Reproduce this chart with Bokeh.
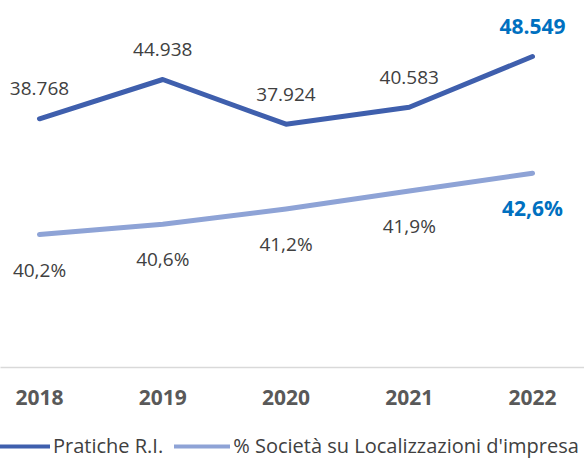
from bokeh.plotting import figure
from bokeh.layouts import column
from bokeh.models import Range1d, FixedTicker, Legend, LegendItem, ColumnDataSource
from bokeh.core.properties import value
from bokeh.embed import file_html
from bokeh.resources import INLINE

# ---- data ----
years = ["2018", "2019", "2020", "2021", "2022"]
pratiche = [38768, 44938, 37924, 40583, 48549]
quota = [40.2, 40.6, 41.2, 41.9, 42.6]
series_names = ["Pratiche R.I.", "% Società su Localizzazioni d'impresa"]

DARK = "#3F5FAD"
LIGHT = "#8EA3D6"
HILITE = "#0070C0"
TXT = "#404040"
FONT = "Open Sans"

xs = list(range(len(years)))
lab_pr = [f"{v:,}".replace(",", ".") for v in pratiche]
lab_q = [f"{v:.1f}%".replace(".", ",") for v in quota]

src = ColumnDataSource(dict(x=xs, pr=pratiche, q=quota))
n = len(years)
src_a = ColumnDataSource(dict(x=xs[:n-1], pr=pratiche[:n-1], q=quota[:n-1], lpr=lab_pr[:n-1], lq=lab_q[:n-1]))
src_b = ColumnDataSource(dict(x=xs[n-1:], pr=pratiche[n-1:], q=quota[n-1:], lpr=lab_pr[n-1:], lq=lab_q[n-1:]))

p = figure(width=584, height=430, output_backend="svg", toolbar_location=None,
           x_range=Range1d(-0.3164, 4.4219), y_range=Range1d(-281, 57342),
           y_axis_location=None, min_border_left=0, min_border_right=0,
           min_border_top=0, min_border_bottom=63)
p.extra_y_ranges = {"pct": Range1d(34.993, 49.362)}
p.outline_line_color = None
p.xgrid.grid_line_color = None
p.ygrid.grid_line_color = None
p.background_fill_color = "white"
p.border_fill_color = "white"

r1 = p.line("x", "pr", source=src, line_color=DARK, line_width=5,
            line_cap="round", line_join="round")
r2 = p.line("x", "q", source=src, y_range_name="pct", line_color=LIGHT, line_width=5,
            line_cap="round", line_join="round")

# data labels
p.text("x", "pr", text="lpr", source=src_a, y_offset=-30, text_align="center",
       text_baseline="middle", text_font=value(FONT), text_font_size="19px", text_color=TXT)
p.text("x", "pr", text="lpr", source=src_b, y_offset=-30, text_align="center",
       text_baseline="middle", text_font=value(FONT), text_font_size="21px",
       text_font_style="bold", text_color=HILITE)
p.text("x", "q", text="lq", source=src_a, y_range_name="pct", y_offset=35, text_align="center",
       text_baseline="middle", text_font=value(FONT), text_font_size="19px", text_color=TXT)
p.text("x", "q", text="lq", source=src_b, y_range_name="pct", y_offset=35, text_align="center",
       text_baseline="middle", text_font=value(FONT), text_font_size="21px",
       text_font_style="bold", text_color=HILITE)

ax = p.xaxis[0]
ax.ticker = FixedTicker(ticks=xs)
ax.major_label_overrides = {i: y for i, y in zip(xs, years)}
ax.axis_line_color = "#D9D9D9"
ax.axis_line_width = 1.5
ax.major_tick_line_color = None
ax.minor_tick_line_color = None
ax.major_tick_out = 0
ax.major_tick_in = 0
ax.major_label_standoff = 22
ax.major_label_text_font = FONT
ax.major_label_text_font_size = "21px"
ax.major_label_text_font_style = "bold"
ax.major_label_text_color = "#595959"

# legend strip (separate figure below the chart); its renderers are hidden
lf = figure(width=584, height=29, output_backend="svg", toolbar_location=None,
            x_range=Range1d(0, 1), y_range=Range1d(0, 1),
            x_axis_location=None, y_axis_location=None,
            min_border_left=0, min_border_right=0, min_border_top=0, min_border_bottom=0)
lf.outline_line_color = None
lf.xgrid.grid_line_color = None
lf.ygrid.grid_line_color = None
lr1 = lf.line("x", "pr", source=src, line_color=DARK, line_width=4, line_cap="round", visible=False)
lr2 = lf.line("x", "q", source=src, line_color=LIGHT, line_width=4, line_cap="round", visible=False)

legend = Legend(items=[LegendItem(label=series_names[0], renderers=[lr1]),
                       LegendItem(label=series_names[1], renderers=[lr2])],
                orientation="horizontal", location=(-6, 0),
                glyph_width=56, glyph_height=20, label_height=20, label_standoff=3,
                spacing=11, padding=0, margin=0, border_line_color=None,
                background_fill_alpha=0, label_text_font=FONT,
                label_text_font_size="20px", label_text_color=TXT)
lf.add_layout(legend)

layout = column(p, lf, spacing=0)
open("out.html", "w").write(file_html(layout, INLINE))
